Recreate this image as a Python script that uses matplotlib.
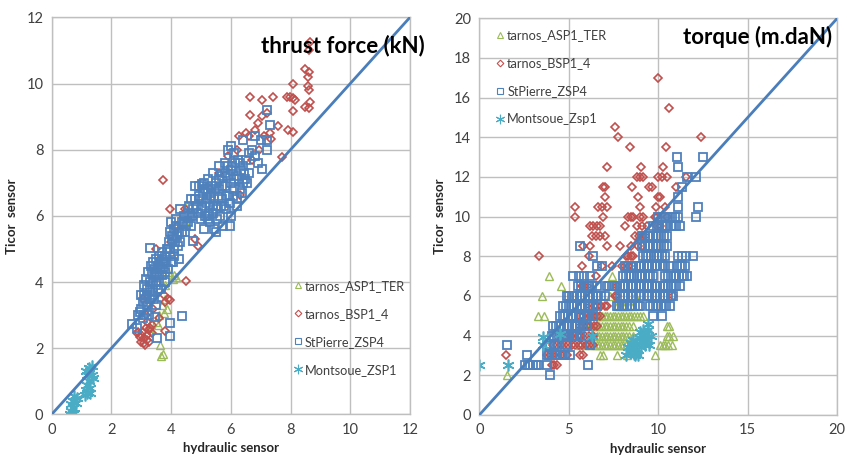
import matplotlib
matplotlib.use("Agg")
import matplotlib.pyplot as plt
from matplotlib.lines import Line2D

# ---------------- data: thrust force (kN) ----------------
th_asp_x = [3.65, 3.72, 3.62, 3.75, 3.7, 3.8, 3.55, 3.5, 4.05, 4.1, 4.15, 3.9, 4.45, 4.5, 3.3, 3.6, 3.8, 3.85]
th_asp_y = [1.75, 1.83, 2.1, 3.05, 3.3, 3.5, 2.7, 2.8, 4.1, 4.2, 4.15, 4.3, 5.8, 6.25, 2.6, 3.0, 3.9, 3.2]

th_bsp_x = [8.65, 8.63, 8.48, 8.62, 8.6, 8.09, 8.6, 8.63, 8.65, 8.47, 8.63, 7.87, 7.98, 8.07, 8.15, 8.09,
            6.64, 7.03, 7.42, 6.64, 7.03, 7.2, 7.92, 8.09, 7.7, 7.59, 7.31, 7.33, 6.81, 6.6, 6.27,
            3.72, 3.96, 4.49, 3.79, 6.31,
            2.9, 2.95, 3.0, 3.05, 3.1, 3.1, 3.15, 3.2, 3.2, 3.25, 3.3, 3.05, 2.85, 3.15, 3.35, 3.4,
            3.6, 3.75, 3.8, 3.9, 3.95, 3.5, 4.0, 4.2, 4.45, 4.8, 4.9, 5.3, 5.6, 5.9, 6.2, 6.5, 6.9,
            7.1, 6.95, 6.7, 3.0, 3.2, 3.12, 3.25, 3.35]
th_bsp_y = [11.27, 11.0, 10.44, 10.35, 10.2, 10.0, 9.93, 9.8, 9.44, 9.28, 9.25, 9.6, 9.59, 9.56, 9.5, 9.17,
            9.6, 9.5, 9.59, 9.05, 9.02, 9.1, 8.6, 8.55, 7.79, 8.73, 8.5, 8.32, 8.6, 8.4, 8.4,
            7.09, 6.2, 4.04, 2.52, 6.63,
            2.5, 2.35, 2.2, 2.5, 2.3, 2.15, 2.6, 2.4, 2.8, 2.2, 2.6, 3.5, 2.45, 3.0, 2.45, 3.2,
            2.9, 3.6, 3.4, 3.5, 3.45, 5.0, 5.2, 5.7, 6.2, 5.3, 5.1, 6.8, 7.3, 7.8, 8.0, 8.5, 8.8,
            8.4, 8.0, 7.7, 2.4, 2.25, 2.1, 2.55, 2.7]

th_stp_x = [2.68, 2.85, 2.9, 2.95, 3.0, 3.05, 3.1, 3.1, 3.15, 3.2, 3.2, 3.05,
            3.3, 3.3, 3.35, 3.4, 3.4, 3.45, 3.5, 3.5, 3.5, 3.45, 3.31,
            3.55, 3.6, 3.6, 3.65, 3.7, 3.7, 3.75, 3.8, 3.8, 3.52, 3.98, 3.96, 4.35,
            3.9, 3.95, 4.0, 4.05, 4.1, 4.1, 4.15, 4.2, 4.25, 4.3, 4.3, 4.1, 4.35, 4.0,
            4.45, 4.5, 4.55, 4.6, 4.7, 4.75, 4.8, 4.8, 4.65,
            4.9, 4.95, 5.0, 5.0, 5.05, 5.1, 5.1, 5.15, 5.2, 5.2, 5.25, 5.3, 5.3, 5.05,
            5.35, 5.4, 5.4, 5.45, 5.5, 5.5, 5.55, 5.6, 5.6, 5.65, 5.7, 5.7, 5.75, 5.45,
            5.8, 5.8, 5.85, 5.9, 5.9, 5.95, 6.0, 6.0, 6.0, 5.97, 6.05, 6.1, 6.1,
            6.2, 6.2, 6.25, 6.3, 6.35, 6.4, 6.4, 6.5, 6.55, 6.45,
            6.7, 6.8, 6.9, 7.03, 7.0, 7.2, 7.2, 7.2, 7.3, 6.8,
            3.0, 3.08, 3.12, 3.18, 3.22, 3.25, 3.28, 3.32, 3.36, 3.38, 3.42, 3.44, 3.48, 3.52, 3.55,
            3.58, 3.62, 3.66, 3.68, 3.72, 3.78, 3.82, 3.85, 3.88, 3.92, 3.95, 4.02, 4.08, 4.12, 4.18,
            4.22, 4.28, 4.38, 4.42, 4.5, 4.58, 4.62, 4.68, 4.72, 4.85, 4.92, 5.02, 5.08, 5.12, 5.18,
            5.22, 5.28, 5.32, 5.38, 5.42, 5.48, 5.52, 5.58, 5.62, 5.68, 5.72, 5.78, 5.82, 5.88, 5.92,
            5.98, 6.02, 6.08, 6.12, 6.15, 6.22, 6.28, 6.32, 6.38, 6.42, 6.48, 6.6, 6.62, 5.55, 5.25]
th_stp_y = [2.72, 2.6, 3.0, 3.1, 3.2, 3.4, 3.6, 3.9, 4.1, 3.8, 3.3, 2.9,
            3.5, 4.0, 4.3, 4.6, 3.7, 4.2, 4.7, 3.9, 3.3, 2.95, 5.02,
            4.5, 4.8, 4.0, 4.4, 4.9, 4.2, 4.6, 4.8, 4.3, 2.32, 2.37, 2.75, 2.97,
            5.0, 5.5, 5.8, 5.3, 5.0, 5.6, 5.9, 5.4, 4.7, 5.2, 6.2, 4.8, 5.5, 4.6,
            5.5, 6.0, 5.8, 6.3, 6.0, 5.25, 6.5, 6.9, 6.5,
            6.1, 6.9, 6.5, 5.9, 6.2, 7.0, 5.6, 6.8, 6.0, 6.5, 7.1, 6.3, 5.8, 6.95,
            6.7, 7.3, 6.1, 6.5, 5.5, 7.0, 6.3, 7.5, 6.8, 6.0, 7.2, 6.5, 5.7, 5.6,
            7.6, 6.9, 6.2, 8.0, 7.2, 6.6, 8.1, 7.0, 6.0, 5.7, 7.5, 6.8, 7.9,
            6.3, 7.2, 7.7, 6.8, 7.4, 8.3, 7.0, 7.7, 7.0, 7.3,
            8.0, 7.8, 7.6, 7.42, 8.3, 8.0, 8.3, 9.2, 8.75, 8.4,
            3.6, 3.0, 3.5, 3.6, 4.3, 3.0, 3.8, 4.5, 3.6, 4.0, 4.4, 3.5, 4.0, 4.3, 3.8,
            4.2, 4.6, 3.8, 4.7, 4.4, 4.0, 4.6, 5.0, 4.4, 5.2, 4.9, 5.4, 4.6, 5.2, 5.7,
            5.1, 5.5, 5.8, 6.0, 5.7, 6.1, 6.0, 5.7, 6.2, 6.3, 6.6, 6.3, 6.7, 6.0, 6.4,
            6.8, 6.1, 6.6, 6.9, 6.3, 6.8, 6.2, 6.6, 7.1, 6.3, 6.9, 6.3, 7.3, 6.6, 7.5,
            6.4, 7.4, 6.6, 7.1, 7.6, 6.5, 7.1, 7.6, 6.7, 7.5, 7.1, 7.3, 7.9, 5.9, 5.9]

th_mon_x = [0.6, 0.65, 0.7, 0.75, 0.7, 0.65, 0.8, 0.85, 0.75, 0.7, 1.1, 1.15, 1.2, 1.25, 1.2,
            1.3, 1.25, 1.35, 1.3, 1.4, 1.15, 1.3, 1.2, 1.35]
th_mon_y = [0.0, 0.1, 0.2, 0.05, 0.4, 0.3, 0.35, 0.5, 0.55, 0.0, 0.6, 0.75, 0.9, 1.0, 1.2,
            1.3, 1.4, 1.2, 0.8, 1.1, 1.3, 0.65, 0.65, 1.45]

# ---------------- data: torque (m.daN), rows of equal Ticor value ----------------
tq_asp_levels = [7.0, 6.5, 6.0, 5.5, 5.0, 4.5, 4.0, 3.5, 3.0, 2.0]
tq_asp_xs = [
    [3.91, 7.39],
    [4.58, 7.6],
    [3.48, 7.3, 8.7],
    [7.7, 7.85, 8.0, 8.15, 8.3, 8.6],
    [3.3, 3.63, 6.4, 6.55, 6.7, 6.85, 7.0, 7.15, 7.3, 7.45, 7.6, 7.75, 7.9, 8.05, 8.2, 8.35, 8.5,
     8.65, 8.8, 8.95, 9.16],
    [5.62, 5.9, 6.2, 6.4, 6.55, 6.7, 6.85, 7.0, 7.15, 7.3, 7.45, 7.6, 7.75, 7.9, 8.05, 8.2, 8.35,
     8.6, 10.47, 10.6],
    [6.4, 6.55, 6.7, 6.85, 7.0, 7.15, 7.3, 7.45, 7.6, 7.75, 7.9, 8.05, 8.2, 8.35, 8.6, 10.47, 10.6, 10.84],
    [5.62, 5.9, 6.2, 6.4, 6.55, 6.7, 6.85, 7.0, 7.15, 7.3, 7.45, 7.6, 7.75, 7.9, 8.05, 8.2, 8.4,
     8.6, 10.1, 10.25, 10.4, 10.55, 10.74],
    [6.74, 6.93, 7.67, 8.23, 9.81],
    [1.53],
]

tq_bsp_levels = [17.0, 15.5, 14.5, 14.0, 13.5, 12.5, 12.0, 11.5, 11.0, 10.5, 10.0, 9.5, 9.0,
                 8.5, 8.0, 7.5, 7.0, 6.5, 6.0, 5.5, 5.0, 4.5, 4.0, 3.5, 3.0, 2.5]
tq_bsp_xs = [
    [10.0],
    [10.61],
    [7.58],
    [7.77, 12.38],
    [8.42, 10.43],
    [7.15, 9.01, 10.28],
    [8.79, 8.97, 9.16, 10.0, 10.19, 10.47, 11.55],
    [6.93, 7.04, 8.51, 9.46, 9.65, 10.99],
    [7.04, 8.88, 9.96, 10.09],
    [5.34, 6.61, 6.83, 7.15, 8.97, 9.87, 10.39],
    [5.34, 6.93, 8.32, 8.45, 8.6, 8.97, 9.16, 9.8, 9.94, 10.47],
    [6.18, 6.35, 6.55, 6.74, 8.14, 8.8, 9.07, 9.35, 9.9, 10.1],
    [6.28, 6.5, 6.74, 7.0, 8.7, 8.9, 9.07, 9.25],
    [5.81, 6.18, 7.11, 7.86, 8.45, 8.88, 9.07],
    [3.35, 6.15, 8.2, 8.33, 8.45, 8.6],
    [5.72, 6.83, 7.39, 7.95, 8.15, 8.35, 8.6],
    [6.52],
    [5.72, 5.85, 6.0, 7.67],
    [7.58, 7.67, 10.84],
    [6.18, 6.4, 6.6, 6.8, 7.0, 7.11],
    [5.62, 5.8, 6.0, 6.2, 6.4, 6.55, 6.74],
    [5.62, 5.8, 6.0, 6.2, 6.4, 6.55],
    [4.88, 5.1, 5.3, 5.5, 5.7, 5.9, 6.1, 6.37],
    [4.13, 4.35, 4.55, 4.75, 4.95, 5.15, 5.35, 5.55, 5.75, 5.95, 6.15, 6.37],
    [1.49, 3.76, 3.95, 4.15, 4.35, 4.55, 4.88, 5.62, 5.81],
    [4.04, 4.18, 4.32],
]

tq_stp_levels = [13.0, 12.5, 12.0, 11.5, 11.0, 10.5, 10.0, 9.5, 9.0, 8.5, 8.0, 7.5, 7.0,
                 6.5, 6.0, 5.5, 5.0, 4.5, 4.0, 3.5, 3.0, 2.5, 2.0]
tq_stp_xs = [
    [11.02, 12.51],
    [11.12],
    [11.58, 12.1],
    [11.3],
    [11.12],
    [11.12, 12.23],
    [10.0, 10.2, 10.4, 10.56, 10.75, 10.95, 11.12, 12.1],
    [9.72, 9.9, 10.05, 10.2, 10.35, 10.5, 10.7, 10.85, 11.0, 11.21],
    [9.07, 9.25, 9.4, 9.55, 9.7, 9.85, 10.0, 10.15, 10.3, 10.47],
    [5.62, 9.07, 9.25, 9.4, 9.55, 9.7, 9.85, 10.0, 10.15, 10.3, 10.47],
    [6.37, 9.15, 9.3, 9.45, 9.6, 9.75, 9.9, 10.05, 10.2, 10.4, 11.12, 11.35, 11.55, 11.96],
    [6.55, 6.83, 8.14, 8.3, 8.45, 8.6, 8.75, 8.9, 9.05, 9.2, 9.35, 9.5, 9.65, 9.8, 9.95, 10.1,
     10.25, 10.4, 10.65, 11.02, 11.2, 11.35, 11.5],
    [5.25, 5.55, 5.85, 6.18, 8.04, 8.2, 8.35, 8.5, 8.65, 8.8, 8.95, 9.1, 9.25, 9.4, 9.55, 9.72,
     10.37, 10.55, 10.7, 10.85, 11.0, 11.15, 11.3, 11.45, 11.58],
    [5.53, 5.7, 5.85, 6.0, 6.15, 6.3, 6.55, 7.11, 7.25, 7.4, 7.55, 7.7, 7.85, 8.0, 8.15, 8.3,
     8.45, 8.6, 8.75, 8.9, 9.05, 9.2, 9.35, 9.5, 9.65, 9.8, 9.95, 10.1, 10.25, 10.4, 10.55,
     10.7, 10.85, 11.0, 11.21],
    [4.88, 5.0, 5.15, 5.3, 5.45, 5.6, 5.75, 5.9, 6.05, 6.2, 6.35, 6.5, 6.65, 6.8, 7.02, 7.86,
     8.0, 8.15, 8.3, 8.45, 8.6, 8.75, 8.97, 9.35, 9.5, 9.65, 9.8, 9.95, 10.1, 10.25, 10.4,
     10.55, 10.7, 10.84],
    [4.69, 4.85, 5.0, 5.15, 5.3, 5.45, 5.6, 5.75, 5.9, 6.05, 6.2, 6.35, 6.55, 7.67, 7.8, 7.95,
     8.1, 8.25, 8.4, 8.55, 8.7, 8.85, 8.97, 9.53, 9.7, 9.85, 10.0, 10.15, 10.3, 10.45, 10.65],
    [4.51, 4.65, 4.8, 4.95, 5.1, 5.25, 5.4, 5.55, 5.7, 5.85, 6.0, 6.15, 6.37, 9.72, 10.19],
    [4.13, 4.28, 4.43, 4.58, 4.73, 4.88, 5.03, 5.18, 5.33, 5.48, 5.63, 5.8, 6.0],
    [4.04, 4.18, 4.32, 4.46, 4.6, 4.74, 4.88, 5.02, 5.16, 5.3, 5.45, 5.62],
    [1.53, 3.76, 3.95, 4.15, 4.32, 4.88, 6.18],
    [2.64, 3.76, 3.9, 4.05, 4.2, 4.35, 4.5, 4.65, 4.8, 5.07],
    [2.55, 2.7, 2.85, 3.0, 3.15, 3.3, 3.76, 6.09],
    [3.95],
]

tq_mon_x = [0.0, 1.62, 3.54, 3.56, 4.5, 6.3, 8.2, 8.4, 8.55, 8.7, 8.8, 8.9, 9.0, 9.1, 9.2, 9.3, 9.45,
            9.5, 8.6, 8.75, 9.05, 9.35, 8.95, 9.15, 8.45, 9.6, 8.3, 8.65, 8.85, 9.25, 9.4, 8.5]
tq_mon_y = [2.5, 2.5, 3.53, 3.93, 4.1, 4.0, 3.0, 3.2, 3.5, 3.0, 3.3, 3.6, 3.9, 4.0, 3.7, 4.1, 4.6,
            3.5, 3.8, 3.1, 3.4, 3.8, 4.2, 4.3, 3.6, 4.0, 3.4, 3.05, 3.0, 3.5, 4.3, 3.3]

legend_left = ["tarnos_ASP1_TER", "tarnos_BSP1_4", "StPierre_ZSP4", "Montsoue_ZSP1"]
legend_right = ["tarnos_ASP1_TER", "tarnos_BSP1_4", "StPierre_ZSP4", "Montsoue_Zsp1"]

# ---------------- styling ----------------
C_GREEN = "#9BBB59"
C_RED = "#C0504D"
C_BLUE = "#4F81BD"
C_CYAN = "#4BACC6"
C_LINE = "#4A7EBB"
GRID = "#BFBFBF"
TXT = "#404040"

STAR = (6, 2, 0)
styles = [
    dict(marker="^", ms=5.5, mec=C_GREEN, mfc="none", mew=1.0),
    dict(marker="D", ms=4.2, mec=C_RED, mfc="none", mew=1.2),
    dict(marker="s", ms=6.0, mec=C_BLUE, mfc="none", mew=1.3),
    dict(marker=STAR, ms=8.5, mec=C_CYAN, mfc="none", mew=1.2),
]


def flatten(levels, xs):
    fx, fy = [], []
    for lv, row in zip(levels, xs):
        for v in row:
            fx.append(v)
            fy.append(lv)
    return fx, fy


plt.rcParams["font.family"] = ["Lato", "DejaVu Sans"]

fig = plt.figure(figsize=(8.47, 4.63), dpi=100)
ax1 = fig.add_axes([0.061, 0.105, 0.423, 0.8575])
ax2 = fig.add_axes([0.566, 0.104, 0.4225, 0.8565])


def setup(ax, lim, step):
    ax.set_xlim(0, lim)
    ax.set_ylim(0, lim)
    ax.set_xticks(range(0, lim + 1, step))
    ax.set_yticks(range(0, lim + 1, 2))
    ax.grid(True, color=GRID, lw=1.0)
    ax.set_axisbelow(True)
    for s in ax.spines.values():
        s.set_color(GRID)
        s.set_linewidth(1.0)
    ax.tick_params(length=0, labelsize=10.5, colors=TXT, pad=6)
    ax.set_xlabel("hydraulic sensor", fontsize=9.5, fontweight="bold", color="#262626", labelpad=4)
    ax.set_ylabel("Ticor  sensor", fontsize=9.5, fontweight="bold", color="#262626", labelpad=6)
    ax.plot([0, lim], [0, lim], color=C_LINE, lw=2.0, zorder=3)


setup(ax1, 12, 2)
setup(ax2, 20, 5)

th_series = [(th_asp_x, th_asp_y), (th_bsp_x, th_bsp_y), (th_stp_x, th_stp_y), (th_mon_x, th_mon_y)]
for (x, y), st in zip(th_series, styles):
    ax1.plot(x, y, ls="none", zorder=2, **st)

tq_series = [flatten(tq_asp_levels, tq_asp_xs), flatten(tq_bsp_levels, tq_bsp_xs),
             flatten(tq_stp_levels, tq_stp_xs), (tq_mon_x, tq_mon_y)]
for (x, y), st in zip(tq_series, styles):
    ax2.plot(x, y, ls="none", zorder=2, **st)

ax1.text(1.04, 0.93, "thrust force (kN)", transform=ax1.transAxes, ha="right", va="center",
         fontsize=16, fontweight="bold", color="black", clip_on=False)
ax2.text(0.985, 0.952, "torque (m.daN)", transform=ax2.transAxes, ha="right", va="center",
         fontsize=16, fontweight="bold", color="black")


def legend(ax, labels, loc):
    handles = [Line2D([], [], ls="none", **dict(st, ms=st["ms"] * 0.8, mew=0.8)) for st in styles]
    leg = ax.legend(handles, labels, loc=loc, frameon=False, fontsize=9.2, handlelength=0.5,
                    handletextpad=0.3, labelspacing=1.25, borderaxespad=0)
    for t in leg.get_texts():
        t.set_color(TXT)
    return leg


l1 = legend(ax1, legend_left, "upper left")
l1.set_bbox_to_anchor((0.664, 0.352), transform=ax1.transAxes)
l2 = legend(ax2, legend_right, "upper left")
l2.set_bbox_to_anchor((0.035, 0.985), transform=ax2.transAxes)

fig.savefig("out.png", dpi=100)
